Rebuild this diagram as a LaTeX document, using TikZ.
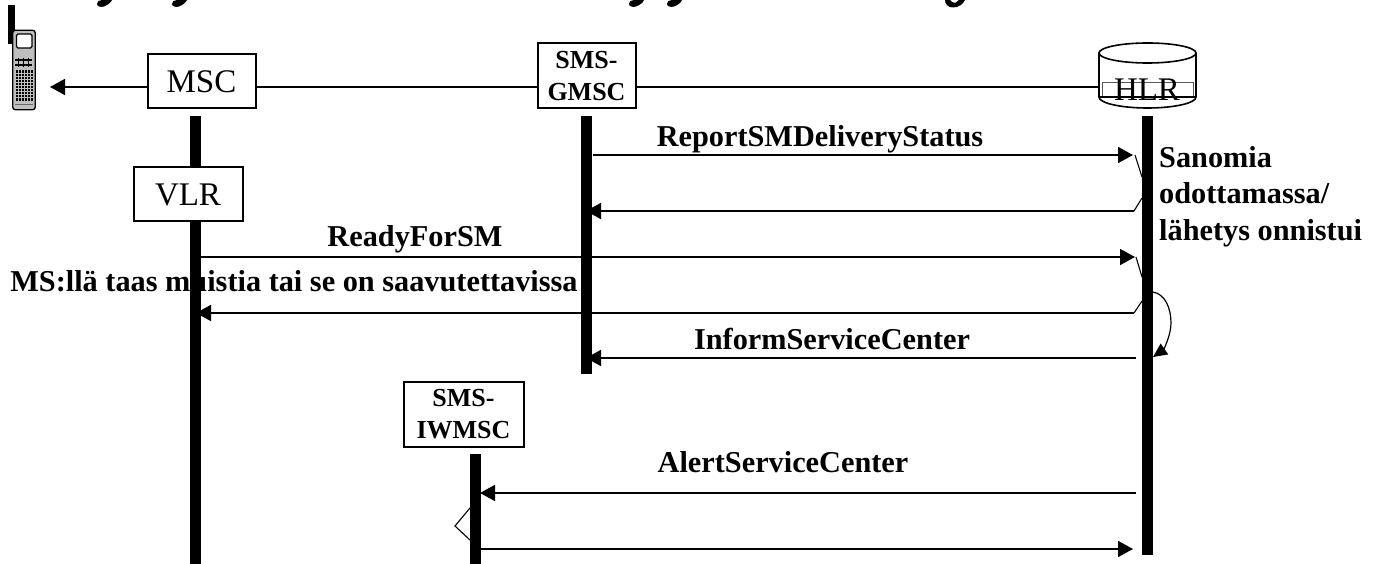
\documentclass[tikz,border=0pt]{standalone}
\usepackage{fontspec}
\setmainfont{Liberation Serif}
\usetikzlibrary{arrows.meta}
\tikzset{
  x=1pt,y=-1pt,
  box/.style={draw=black,line width=2pt,fill=white,inner sep=0pt,align=center},
  plainbox/.style={box,font=\fontsize{33}{33}\selectfont},
  boldbox/.style={box,font=\fontsize{26}{32}\selectfont\bfseries},
  lbl/.style={inner sep=0pt,font=\fontsize{30.3}{30}\selectfont\bfseries,anchor=base},
  lblL/.style={lbl,anchor=base west},
  lifeline/.style={line width=11pt,line cap=butt},
  msg/.style={line width=1.7pt,-{Triangle[length=15pt,width=16pt]}},
  wire/.style={line width=1.7pt},
  notch/.style={line width=1.1pt},
  hook/.style={fill=black,draw=none}
}
\begin{document}
\begin{tikzpicture}
\useasboundingbox (0,0) rectangle (1377,564);
% cropped title descenders
\foreach \h in {97,172,629,667}{
  \fill[hook] (\h+5,0) .. controls (\h+2,-0.5) and (\h,2) .. (\h,4) .. controls (\h,6.5) and (\h+4,7.5) .. (\h+7,6.5) .. controls (\h+11,5) and (\h+14,2.5) .. (\h+15,0) -- cycle;
}
\fill[hook] (945,0) .. controls (945,4) and (948,7.5) .. (953,7.5) .. controls (959,7.5) and (963,4) .. (965,0) -- (959,0) .. controls (957,2.5) and (955,3.5) .. (952,2) -- (950,0) -- cycle;

% labels under the lifelines
\node[lbl] (rs) at (820,146.5) {ReportSMDeliveryStatus};
\node[lbl] (rf) at (415,247) {ReadyForSM};
\node[lbl] (ms) at (294,292) {MS:llä taas muistia tai se on saavutettavissa};
\node[lbl] (is) at (832,349) {InformServiceCenter};
\node[lbl] (as) at (783,472) {AlertServiceCenter};
\node[lblL] (sa1) at (1159,168) {Sanomia};
\node[lblL] (sa2) at (1159,204) {odottamassa/};
\node[lblL] (sa3) at (1159,241) {lähetys onnistui};

% phone
\node[inner sep=0pt,minimum width=22pt,minimum height=79pt] (phone) at (24,70) {};
\fill[black] (8,5) rectangle (15,44);
\draw[line width=1.3pt,fill=black!25,rounded corners=2.5pt] (phone.south west) rectangle (phone.north east);
\draw[line width=1.2pt,fill=white,rounded corners=1.5pt] (16.5,34) rectangle (32,48);
\fill[black] (15,59) rectangle (32,61);
\fill[black] (15,64) rectangle (32,66);
\foreach \x in {18,23,28}{\fill[black] (\x,58) rectangle (\x+1.2,67);}
\fill[black] (15.5,70) rectangle (33,101);
\foreach \x in {18.5,21.5,24.5,27.5,30.5}{\draw[white!75!black,line width=0.7pt] (\x,70) -- (\x,101);}
\foreach \y in {73,76,79,82,85,88,91,94,97}{\draw[white!75!black,line width=0.7pt] (15.5,\y) -- (33,\y);}
\draw[black!60,line width=0.8pt] (15,104) -- (33,104);

% nodes
\node[plainbox,minimum width=108pt,minimum height=54pt] (msc) at (201.5,81.5) {MSC};
\node[boldbox,minimum width=98pt,minimum height=65pt] (gmsc) at (586.5,76) {SMS-\\GMSC};
\node[plainbox,minimum width=109pt,minimum height=54pt] (vlr) at (188,194.5) {VLR};
\node[boldbox,minimum width=120pt,minimum height=65pt] (iw) at (463.5,414) {SMS-\\IWMSC};
\node[inner sep=0pt,minimum width=97pt,minimum height=40pt] (hlr) at (1147.5,87) {};

% HLR cylinder
\draw[line width=1.6pt,fill=white] (1099,53) -- (1099,97) arc[start angle=180,end angle=360,x radius=48.5pt,y radius=11pt] -- (1196,53);
\draw[line width=1.6pt,fill=white] (1147.5,53) ellipse[x radius=48.5pt,y radius=10pt];
\draw[black!65,line width=1pt] (1102,97) -- (1102,83) -- (1193,83) -- (1193,97);
\draw[line width=1.3pt] (1099,97) -- (1196,97);
\node[inner sep=0pt,anchor=base,font=\fontsize{33}{33}\selectfont] (hlrtext) at (1147,101) {HLR};

% top line
\coordinate (phoneR) at (50,87);
\coordinate (mscW) at (147,87);
\coordinate (mscE) at (256,87);
\coordinate (gW) at (537,87);
\coordinate (gE) at (636,87);
\coordinate (hW) at (1099,87);
\draw[msg] (mscW) -- (phoneR);
\draw[wire] (mscE) -- (gW);
\draw[wire] (gE) -- (hW);

% lifelines
\coordinate (L1a) at (195.5,116); \coordinate (L1b) at (195.5,167);
\coordinate (L1c) at (195.5,222); \coordinate (L1d) at (195.5,564);
\coordinate (L2a) at (586.5,116); \coordinate (L2b) at (586.5,374);
\coordinate (L3a) at (1147.5,116); \coordinate (L3b) at (1147.5,555);
\coordinate (L4a) at (475.5,454); \coordinate (L4b) at (475.5,564);
\draw[lifeline] (L1a) -- (L1b);
\draw[lifeline] (L1c) -- (L1d);
\draw[lifeline] (L2a) -- (L2b);
\draw[lifeline] (L3a) -- (L3b);
\draw[lifeline] (L4a) -- (L4b);

% messages
\coordinate (a1) at (593,155); \coordinate (a2) at (1133,155);
\coordinate (b1) at (1134,211); \coordinate (b2) at (586,211);
\coordinate (c1) at (201,257); \coordinate (c2) at (1135,257);
\coordinate (d1) at (1134,313); \coordinate (d2) at (196,313);
\coordinate (e1) at (1136,358); \coordinate (e2) at (586,358);
\coordinate (f1) at (1136,493); \coordinate (f2) at (480,493);
\coordinate (g1) at (481,549); \coordinate (g2) at (1133,549);
\draw[msg] (a1) -- (a2);
\draw[msg] (b1) -- (b2);
\draw[msg] (c1) -- (c2);
\draw[msg] (d1) -- (d2);
\draw[msg] (e1) -- (e2);
\draw[msg] (f1) -- (f2);
\draw[msg] (g1) -- (g2);

% notches
\coordinate (n1) at (1142,177); \coordinate (n2) at (1142,198);
\coordinate (n3) at (1142,277); \coordinate (n4) at (1142,301);
\coordinate (a3) at (1135,155); \coordinate (c3) at (1136,257);
\draw[notch] (a3) -- (n1);
\draw[notch] (n2) -- (b1);
\draw[notch] (c3) -- (n3);
\draw[notch] (n4) -- (d1);
\coordinate (w1) at (470,508); \coordinate (w2) at (455,526); \coordinate (w3) at (470,540);
\draw[notch] (w1) -- (w2) -- (w3);

% self loop
\coordinate (s1) at (1153,292); \coordinate (s2) at (1153,357);
\draw[line width=1.2pt,-{Triangle[length=14pt,width=13pt]}] (s1) .. controls (1165,294) and (1171,308) .. (1171,323) .. controls (1171,336) and (1163,350) .. (s2);
\end{tikzpicture}
\end{document}
